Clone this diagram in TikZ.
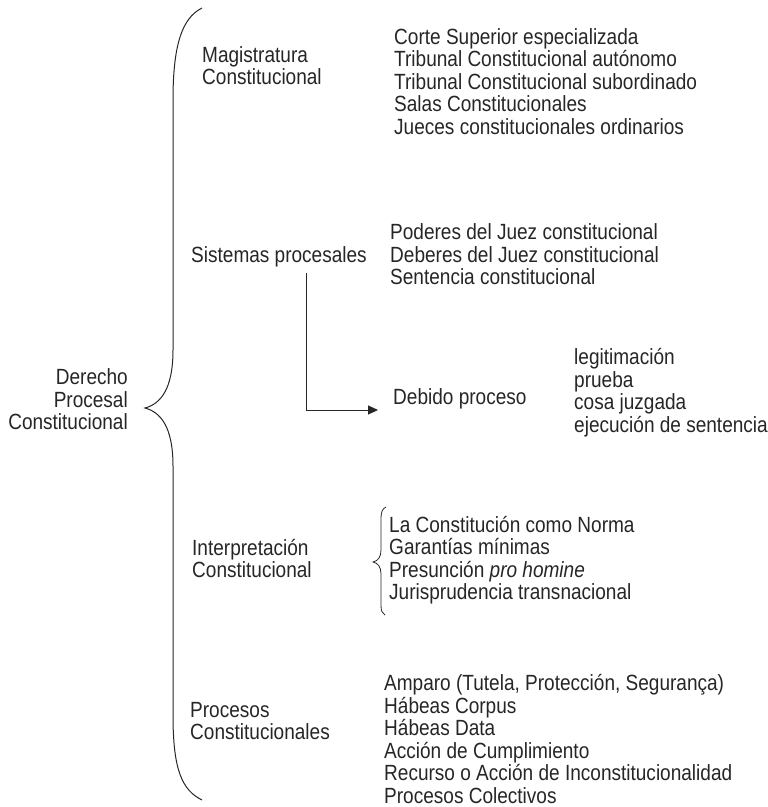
\documentclass[tikz,border=0pt]{standalone}
\usepackage{fontspec}
\setmainfont[FakeStretch=0.865]{Liberation Sans}
\usetikzlibrary{arrows.meta}
\begin{document}
\begin{tikzpicture}[x=1pt,y=-1pt,
  txt/.style={inner sep=0pt,anchor=base west,text=black!85,font=\fontsize{22}{22.5}\selectfont},
  txtr/.style={txt,anchor=base east},
  ln/.style={line width=1pt,draw=black!85}]
\useasboundingbox (0,0) rectangle (768,807);
% root
\node[txtr] (r1) at (128,384.5) {Derecho};
\node[txtr] (r2) at (128,407) {Procesal};
\node[txtr] (r3) at (128,429.5) {Constitucional};
% big brace
\draw[ln] (202,8) .. controls (182,18) and (173,45) .. (173,100) -- (173,350)
  .. controls (173,390) and (160,404) .. (145,408)
  .. controls (160,412) and (173,426) .. (173,466) -- (173,715)
  .. controls (173,770) and (182,790) .. (202,800);
% categories
\node[txt] (mag1) at (202,62) {Magistratura};
\node[txt] (mag2) at (202,84.5) {Constitucional};
\node[txt] (sp) at (191,262) {Sistemas procesales};
\node[txt] (int1) at (192,555) {Interpretación};
\node[txt] (int2) at (192,577.5) {Constitucional};
\node[txt] (pc1) at (190,717) {Procesos};
\node[txt] (pc2) at (190,739.5) {Constitucionales};
% Magistratura list
\foreach \t [count=\i] in {Corte Superior especializada,Tribunal Constitucional autónomo,Tribunal Constitucional subordinado,Salas Constitucionales,Jueces constitucionales ordinarios}
  \node[txt] (ml\i) at (394,{44+22.5*(\i-1)}) {\t};
% Sistemas list
\foreach \t [count=\i] in {Poderes del Juez constitucional,Deberes del Juez constitucional,Sentencia constitucional}
  \node[txt] (sl\i) at (390,{239.5+22.5*(\i-1)}) {\t};
% Debido proceso
\node[txt] (dp) at (393,404) {Debido proceso};
\coordinate (c1) at (306,273);
\draw[ln,-{Triangle[length=10pt,width=9pt]}] (c1) |- ([xshift=-15pt,yshift=-6pt]dp.base west);
\foreach \t [count=\i] in {legitimación,prueba,cosa juzgada,ejecución de sentencia}
  \node[txt] (dl\i) at (574,{364.5+22.5*(\i-1)}) {\t};
% Interpretacion list
\foreach \t [count=\i] in {La Constitución como Norma,Garantías mínimas,{Presunción \textit{pro homine}},Jurisprudencia transnacional}
  \node[txt] (il\i) at (389,{532+22.5*(\i-1)}) {\t};
\draw[ln,line width=0.8pt] (386,507) .. controls (382,509) and (381,512) .. (381,520) -- (381,550)
  .. controls (381,557) and (378,561) .. (373,562)
  .. controls (378,563) and (381,567) .. (381,574) -- (381,605)
  .. controls (381,611) and (382,613) .. (385,615);
% Procesos list
\foreach \t [count=\i] in {{Amparo (Tutela, Protección, Segurança)},Hábeas Corpus,Hábeas Data,Acción de Cumplimiento,Recurso o Acción de Inconstitucionalidad,Procesos Colectivos}
  \node[txt] (pl\i) at (384,{690.5+22.5*(\i-1)}) {\t};
\end{tikzpicture}
\end{document}
